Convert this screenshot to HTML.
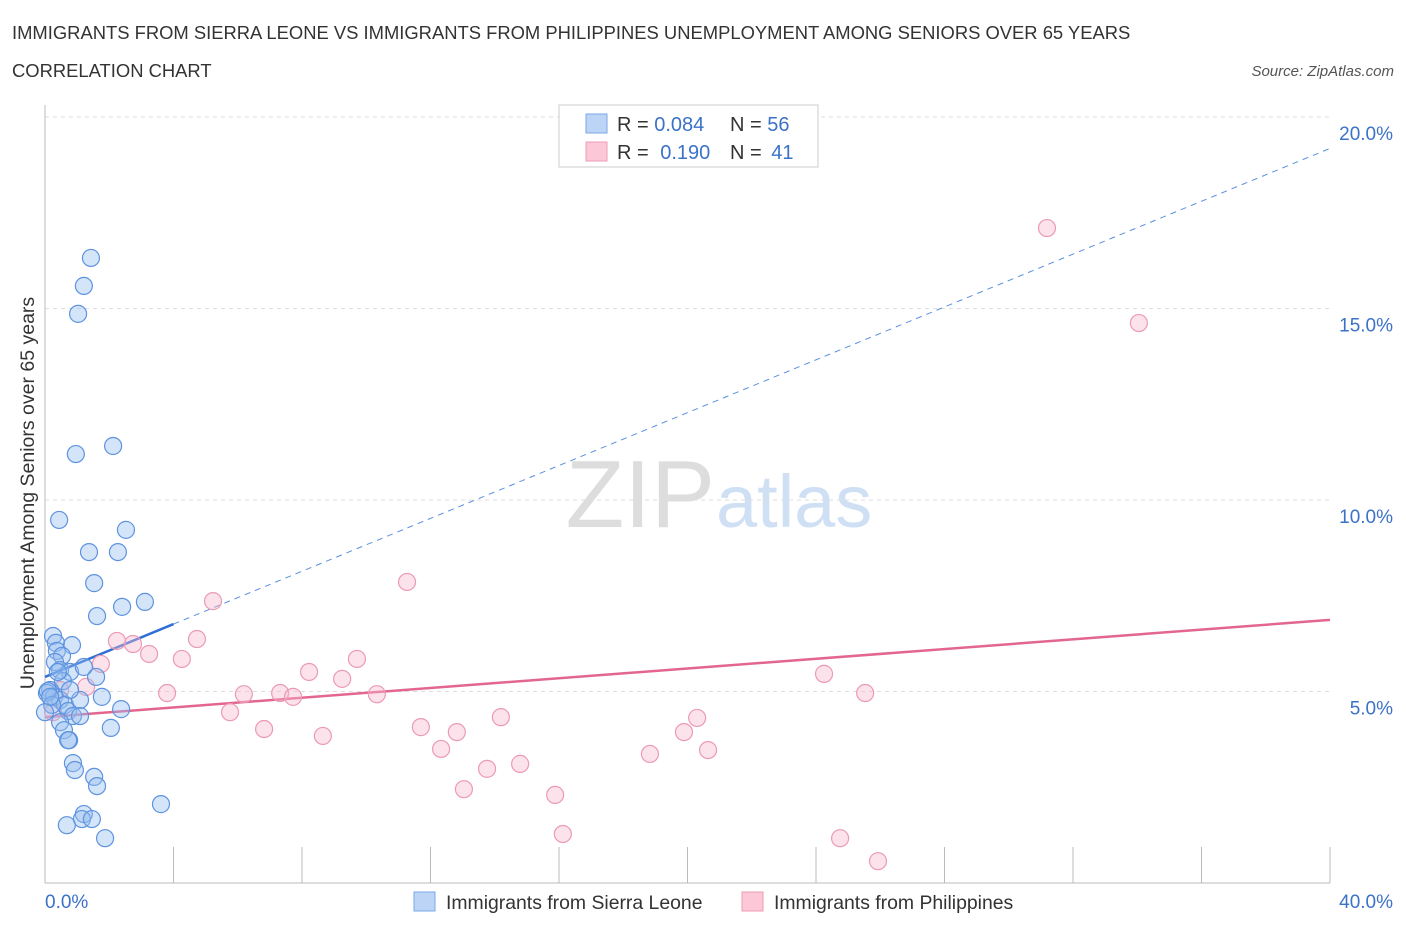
<!DOCTYPE html>
<html><head><meta charset="utf-8"><style>
body{margin:0;background:#fff;font-family:"Liberation Sans",sans-serif}
svg text{font-family:"Liberation Sans",sans-serif}
</style></head><body>
<svg id="c" width="1406" height="930" viewBox="0 0 1406 930">
<text x="12" y="39" font-size="18.4" fill="#333">IMMIGRANTS FROM SIERRA LEONE VS IMMIGRANTS FROM PHILIPPINES UNEMPLOYMENT AMONG SENIORS OVER 65 YEARS</text>
<text x="12" y="77" font-size="18.4" fill="#333">CORRELATION CHART</text>
<text x="1394" y="76" font-size="15" fill="#555" font-style="italic" text-anchor="end">Source: ZipAtlas.com</text>
<text x="715" y="527" font-size="96" fill="#ddd" font-family="Liberation Serif" text-anchor="end">ZIP</text>
<text x="716" y="527" font-size="74" fill="#cfe0f4">atlas</text>
<g id="grid"></g><g id="axes"></g><g id="trend"></g><g id="pts"></g>
<text transform="translate(34,493) rotate(-90)" font-size="19.5" fill="#333" text-anchor="middle">Unemployment Among Seniors over 65 years</text>
<g>
<rect x="559" y="105" width="259" height="62" fill="#fff" stroke="#ccc"/>
<rect x="586" y="114" width="21" height="19" fill="#bcd4f6" stroke="#7aa7e6"/>
<rect x="586" y="142" width="21" height="19" fill="#fcc8d8" stroke="#ee9cb6"/>
<text x="617" y="131" font-size="20" fill="#333">R = <tspan fill="#3b72c8">0.084</tspan></text>
<text x="730" y="131" font-size="20" fill="#333">N = <tspan fill="#3b72c8">56</tspan></text>
<text x="617" y="159" font-size="20" fill="#333">R = <tspan fill="#3b72c8" dx="6">0.190</tspan></text>
<text x="730" y="159" font-size="20" fill="#333">N = <tspan fill="#3b72c8" dx="4">41</tspan></text>
</g>
<g>
<rect x="414" y="892" width="21" height="19" fill="#bcd4f6" stroke="#7aa7e6"/>
<text x="446" y="909" font-size="19.4" fill="#333">Immigrants from Sierra Leone</text>
<rect x="742" y="892" width="21" height="19" fill="#fcc8d8" stroke="#ee9cb6"/>
<text x="774" y="909" font-size="19.4" fill="#333">Immigrants from Philippines</text>
</g>
</svg>
<script>
const blueX=[1.43,1.21,1.03,0.96,2.12,0.44,2.52,1.37,2.27,1.53,2.40,3.11,1.62,0.25,0.34,0.84,0.37,0.53,0.31,0.47,0.78,1.59,0.16,0.06,0.28,0.47,1.77,0.62,0.72,2.37,0.87,1.09,0.47,0.59,0.75,2.05,0.87,0.93,1.53,1.62,3.61,1.21,1.15,1.46,0.68,1.87,0.09,0.22,0.56,1.09,0.40,0.16,0.78,1.21,0.0,0.72];
const blueY=[16.32,15.59,14.86,11.2,11.41,9.48,9.22,8.64,8.64,7.83,7.21,7.34,6.97,6.45,6.27,6.21,6.06,5.93,5.77,5.56,5.51,5.38,5.04,4.96,4.86,4.78,4.86,4.65,4.49,4.54,4.36,4.36,4.2,3.99,3.73,4.05,3.13,2.95,2.77,2.53,2.06,1.8,1.67,1.67,1.51,1.17,5.01,4.65,5.27,4.78,5.51,4.86,5.04,5.64,4.46,3.73];
const pinkX=[31.19,34.05,11.27,5.23,2.24,2.74,4.73,3.24,4.26,1.74,9.71,8.22,9.25,24.25,3.80,6.19,7.32,7.72,10.33,25.53,5.76,6.82,8.65,11.70,12.82,14.19,12.33,20.30,19.89,20.64,13.76,14.79,18.83,13.04,15.88,16.12,24.75,25.93,1.28,0.47,0.25];
const pinkY=[17.10,14.62,7.86,7.36,6.32,6.24,6.37,5.98,5.85,5.72,5.85,5.51,5.33,5.46,4.96,4.93,4.96,4.86,4.93,4.96,4.46,4.02,3.84,4.07,3.94,4.33,3.50,4.31,3.94,3.47,2.98,3.11,3.37,2.45,2.30,1.28,1.17,0.57,5.12,5.04,4.46];
const yTicks=[5,10,15,20];
const xTickLabels=["0.0%","40.0%"];
const blueTrend=[5.38,0.345,4];
const pinkTrend=[4.33,0.0635];
const NS="http://www.w3.org/2000/svg";
const X=v=>45+v/40*1285, Y=v=>883-v*38.3;
function mk(t,a,p){const e=document.createElementNS(NS,t);for(const k in a)e.setAttribute(k,a[k]);document.getElementById(p).appendChild(e);return e;}
yTicks.forEach(t=>{
 const l=mk('line',{x1:45,x2:1330,y1:Y(t),y2:Y(t),stroke:'#ddd','stroke-dasharray':'4,4'},'grid');
 
 
 const tx=mk('text',{x:1393,y:Y(t)+23,'font-size':19,fill:'#3b72c8','text-anchor':'end'},'grid');tx.textContent=t.toFixed(1)+'%';
 
 
});
mk('line',{x1:45,x2:45,y1:105,y2:883,stroke:'#bbb'},'axes');
mk('line',{x1:45,x2:1330,y1:883,y2:883,stroke:'#bbb'},'axes');
for(let i=0;i<=10;i++){const t=mk('line',{x1:X(i*4),x2:X(i*4),y1:847,y2:883,stroke:'#bbb'},'axes');
 
 }
let a=mk('text',{x:45,y:908,'font-size':19,fill:'#3b72c8'},'axes');a.textContent=xTickLabels[0];


a=mk('text',{x:1393,y:908,'font-size':19,fill:'#3b72c8','text-anchor':'end'},'axes');a.textContent=xTickLabels[1];


let tl=mk('line',{x1:X(0),y1:Y(blueTrend[0]),x2:X(blueTrend[2]),y2:Y(blueTrend[0]+blueTrend[1]*blueTrend[2]),stroke:'#2f6fd6','stroke-width':2.5},'trend');


tl=mk('line',{x1:X(blueTrend[2]),y1:Y(blueTrend[0]+blueTrend[1]*blueTrend[2]),x2:X(40),y2:Y(blueTrend[0]+blueTrend[1]*40),stroke:'#5a8fe0','stroke-width':1,'stroke-dasharray':'6,5'},'trend');


tl=mk('line',{x1:X(0),y1:Y(pinkTrend[0]),x2:X(40),y2:Y(pinkTrend[0]+pinkTrend[1]*40),stroke:'#e3668f','stroke-width':2.5},'trend');


pinkX.forEach((x,i)=>{const c=mk('circle',{cx:X(x),cy:Y(pinkY[i]),r:8.5,fill:'rgba(248,185,205,0.4)',stroke:'#ec9ab4','stroke-width':1.2},'pts');
 
 });
blueX.forEach((x,i)=>{const c=mk('circle',{cx:X(x),cy:Y(blueY[i]),r:8.5,fill:'rgba(150,190,240,0.4)',stroke:'#5e93df','stroke-width':1.2},'pts');
 
 });
</script>
</body></html>
